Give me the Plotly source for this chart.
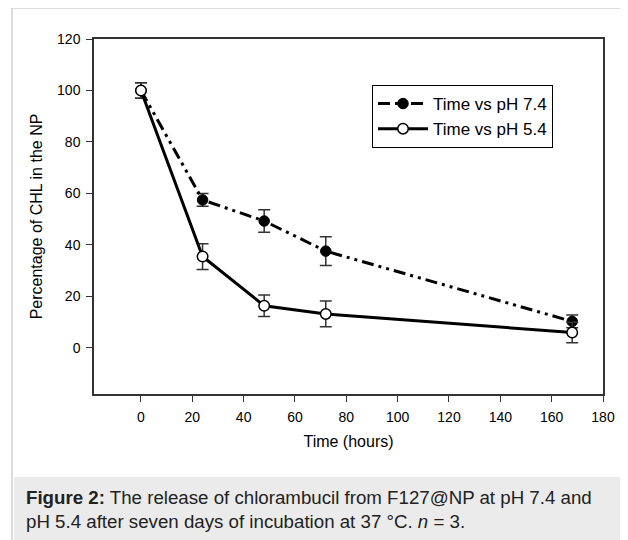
import plotly.graph_objects as go

# ── Data ───────────────────────────────────────────────────────────
hours = [0, 24, 48, 72, 168]

ph74_mean = [100, 57.5, 49.3, 37.6, 10.3]
ph74_err = [3.0, 2.5, 4.4, 5.6, 2.5]

ph54_mean = [100, 35.5, 16.4, 13.2, 6.0]
ph54_err = [3.0, 5.0, 4.2, 5.0, 4.0]

x_ticks = [0, 20, 40, 60, 80, 100, 120, 140, 160, 180]
y_ticks = [0, 20, 40, 60, 80, 100, 120]

CAPTION = ("<b>Figure 2:</b> The release of chlorambucil from F127@NP at pH 7.4 and<br>"
           "pH 5.4 after seven days of incubation at 37 °C. <i>n</i> = 3.")
# ───────────────────────────────────────────────────────────────────

# the page body has an 8px margin, so work in page pixels and shift
OFF = 8
W, H = 628 - OFF, 540 - OFF
L, T = 94 - OFF, 39 - OFF
R = W - (603 - OFF)
B = H - (394 - OFF)
PW, PH = W - L - R, H - T - B


def px_x(p):
    return (p - OFF - L) / PW


def px_y(p):
    return (H - B - (p - OFF)) / PH


fig = go.Figure()

fig.add_trace(go.Scatter(
    x=hours, y=ph74_mean, name="Time vs pH 7.4", mode="lines+markers",
    line=dict(color="black", width=3, dash="12px,5px,3px,5px,3px,5px"),
    marker=dict(symbol="circle", size=10.5, color="black", line=dict(color="black", width=1)),
    error_y=dict(type="data", array=ph74_err, color="#333", thickness=1.5, width=6),
))
fig.add_trace(go.Scatter(
    x=hours, y=ph54_mean, name="Time vs pH 5.4", mode="lines+markers",
    line=dict(color="black", width=3),
    marker=dict(symbol="circle", size=10.5, color="white", line=dict(color="black", width=1.5)),
    error_y=dict(type="data", array=ph54_err, color="#333", thickness=1.5, width=6),
))

axis_common = dict(
    showline=True, mirror=True, linecolor="#333", linewidth=1.5,
    ticks="outside", ticklen=6, tickwidth=1, tickcolor="#333",
    showgrid=False, zeroline=False, ticklabelstandoff=3,
    tickfont=dict(family="Liberation Sans, Arial", size=14, color="black"),
)

fig.update_layout(
    width=W, height=H,
    margin=dict(l=L, r=R, t=T, b=B),
    paper_bgcolor="white", plot_bgcolor="white",
    font=dict(family="Liberation Sans, Arial", color="black"),
    xaxis=dict(range=[-18.3, 180], tickvals=x_ticks,
               title=dict(text="Time (hours)", font=dict(size=16), standoff=12),
               **axis_common),
    yaxis=dict(range=[-17.9, 120], tickvals=y_ticks,
               title=dict(text="Percentage of CHL in the NP", font=dict(size=16), standoff=10),
               **axis_common),
    legend=dict(x=px_x(372), y=px_y(85), xanchor="left", yanchor="top",
                bordercolor="black", borderwidth=1, bgcolor="white",
                font=dict(size=17), itemwidth=50, tracegroupgap=0),
    showlegend=True,
)

# outer frame and caption band
fig.add_shape(type="rect", xref="paper", yref="paper", layer="below",
              x0=px_x(14), x1=px_x(640), y0=px_y(545), y1=px_y(477),
              fillcolor="#ebebeb", line=dict(width=0))
fig.add_shape(type="line", xref="paper", yref="paper",
              x0=px_x(12), x1=px_x(12), y0=px_y(8), y1=px_y(545),
              line=dict(color="#dcdcdc", width=2))
fig.add_shape(type="line", xref="paper", yref="paper",
              x0=px_x(12), x1=px_x(640), y0=px_y(8), y1=px_y(8),
              line=dict(color="#dcdcdc", width=2))

fig.add_annotation(
    text=CAPTION, xref="paper", yref="paper", x=px_x(24), y=px_y(485),
    xanchor="left", yanchor="top", align="left", showarrow=False,
    font=dict(family="Liberation Sans, Arial", size=18.7, color="#222"),
)

fig.write_html("out.html")
